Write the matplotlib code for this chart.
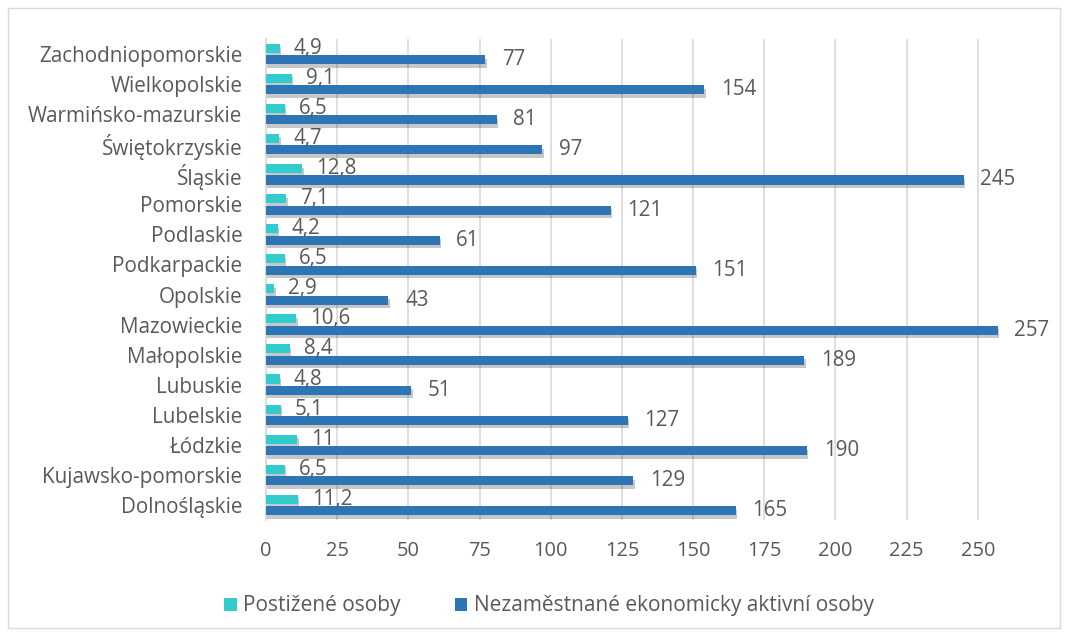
import matplotlib
matplotlib.use("Agg")
import matplotlib.pyplot as plt
import matplotlib.patheffects as pe
from matplotlib.patches import Rectangle, Patch
import numpy as np

regions = ["Dolnośląskie", "Kujawsko-pomorskie", "Łódzkie", "Lubelskie", "Lubuskie",
           "Małopolskie", "Mazowieckie", "Opolskie", "Podkarpackie", "Podlaskie",
           "Pomorskie", "Śląskie", "Świętokrzyskie", "Warmińsko-mazurskie",
           "Wielkopolskie", "Zachodniopomorskie"]
postizene = [11.2, 6.5, 11, 5.1, 4.8, 8.4, 10.6, 2.9, 6.5, 4.2, 7.1, 12.8, 4.7, 6.5, 9.1, 4.9]
nezamestnane = [165, 129, 190, 127, 51, 189, 257, 43, 151, 61, 121, 245, 97, 81, 154, 77]
xticks = [0, 25, 50, 75, 100, 125, 150, 175, 200, 225, 250]
series_names = ["Postižené osoby", "Nezaměstnané ekonomicky aktivní osoby"]

plt.rcParams['font.family'] = ['Open Sans', 'DejaVu Sans']
TXT = "#595959"
CYAN = "#33CCCC"
BLUE = "#2E75B6"

fig = plt.figure(figsize=(10.68, 6.37), dpi=100)
fig.patches.append(Rectangle((8/1068, 1-628/637), 1052/1068, 620/637, transform=fig.transFigure,
                             fill=False, edgecolor="#d9d9d9", linewidth=1.0))
ax = fig.add_axes([266/1068, 1-520/637, 746/1068, 481/637])

y = np.arange(len(regions))
h = 0.3
off = 0.19
shadow = [pe.SimplePatchShadow(offset=(1, -2.5), alpha=0.22, shadow_rgbFace="#000000"), pe.Normal()]
b1 = ax.barh(y + off, postizene, height=h, color=CYAN, zorder=3)
b2 = ax.barh(y - off, nezamestnane, height=h, color=BLUE, zorder=3)
for b in list(b1) + list(b2):
    b.set_path_effects(shadow)

def fmt(v):
    return ("%g" % v).replace(".", ",")

ax.bar_label(b1, labels=[fmt(v) for v in postizene], padding=10, fontsize=14.8, color=TXT)
ax.bar_label(b2, labels=[fmt(v) for v in nezamestnane], padding=12, fontsize=14.8, color=TXT)

ax.set_xlim(0, 262)
ax.set_ylim(-0.5, len(regions) - 0.5)
ax.set_xticks(xticks)
ax.set_xticklabels([str(t) for t in xticks])
ax.set_yticks(y)
ax.set_yticklabels(regions)
ax.tick_params(axis='x', length=0, pad=15, labelsize=14.4, labelcolor=TXT)
ax.tick_params(axis='y', length=0, pad=17, labelsize=14.9, labelcolor=TXT)
ax.grid(axis='x', color="#d9d9d9", linewidth=1.2, zorder=0)
ax.set_axisbelow(True)
for s in ["top", "right", "bottom"]:
    ax.spines[s].set_visible(False)
ax.spines["left"].set_color("#d9d9d9")
ax.spines["left"].set_linewidth(1.2)

handles = [Patch(facecolor=CYAN, edgecolor="none"), Patch(facecolor=BLUE, edgecolor="none")]
fig.legend(handles, series_names, loc="center", bbox_to_anchor=(549/1068, 1-606/637), ncol=2,
           frameon=False, fontsize=15, labelcolor=TXT, handlelength=0.6, handleheight=0.6,
           handletextpad=0.3, columnspacing=2.6)

fig.savefig("out.png", dpi=100)
